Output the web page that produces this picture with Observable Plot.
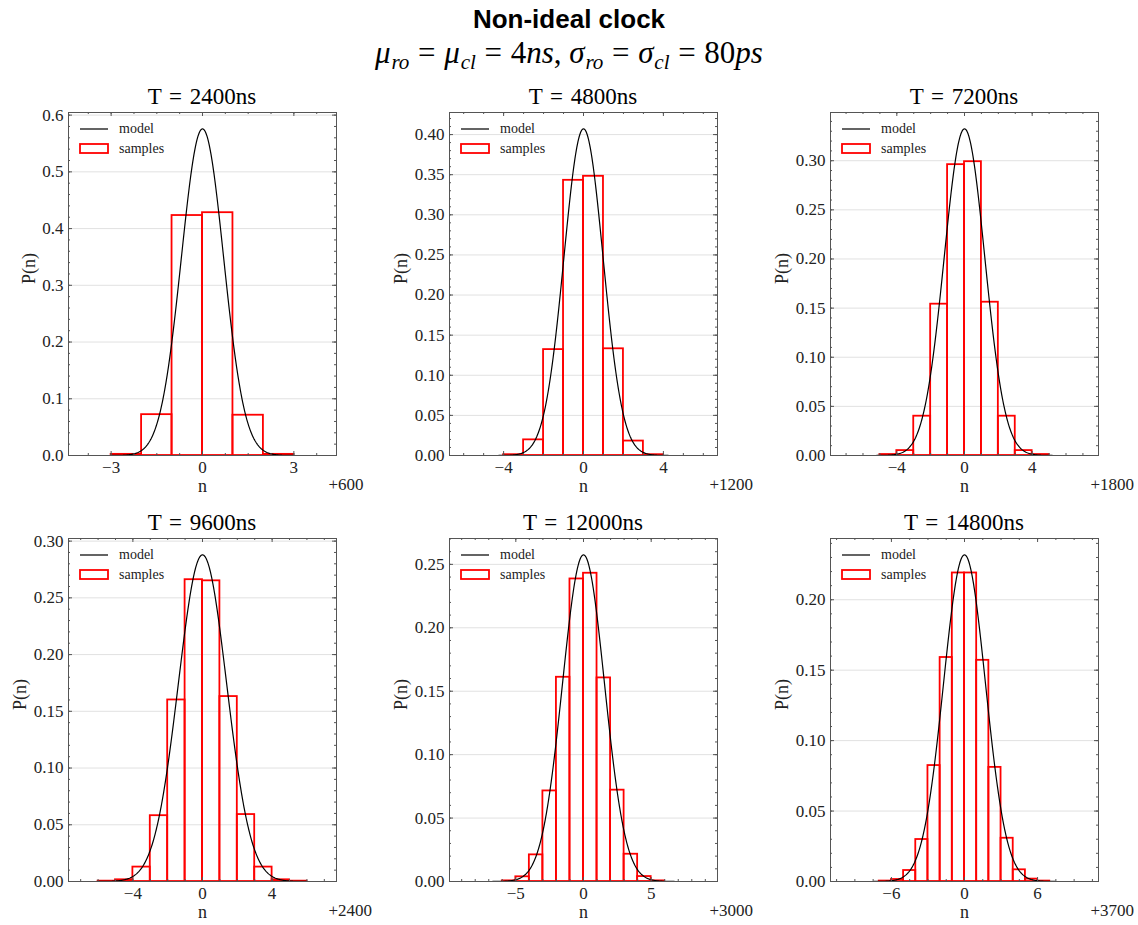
<!DOCTYPE html>
<html>
<head>
<meta charset="utf-8">
<script src="https://cdn.jsdelivr.net/npm/d3@7"></script>
<script src="https://cdn.jsdelivr.net/npm/@observablehq/plot@0.6"></script>
<style>
  body { margin: 0; background: #fff; }
  #fig { position: relative; width: 1138px; height: 925px; overflow: hidden; font-family: "Liberation Serif", serif; color: #000; }
  .title { position: absolute; left: 0; width: 1138px; top: 4px; text-align: center; font: bold 26px "Liberation Sans", Arial, sans-serif; }
  .subtitle { position: absolute; left: 0; width: 1138px; top: 35px; text-align: center; font: 31px "Liberation Serif", serif; white-space: nowrap; }
  .subtitle i { font-style: italic; }
  .subtitle .eq { margin: 0 0.28em; }
  .subtitle sub { font-size: 0.68em; font-style: italic; vertical-align: -0.28em; line-height: 0; margin-left: 0.04em; }
  .ptitle { position: absolute; width: 268px; height: 26px; line-height: 26px; text-align: center; font-size: 23px; white-space: nowrap; word-spacing: 2px; }
  .panel { position: absolute; }
</style>
</head>
<body>
<div id="fig">
  <div class="title">Non-ideal clock</div>
  <div class="subtitle"><i>μ</i><sub>ro</sub><span class="eq">=</span><i>μ</i><sub>cl</sub><span class="eq">=</span>4<i>ns</i>, <i>σ</i><sub>ro</sub><span class="eq">=</span><i>σ</i><sub>cl</sub><span class="eq">=</span>80<i>ps</i></div>
</div>
<script>
// Clock parameters (ns)
const muClock = 4;
const sigmaClock = 0.08;

// Observation windows T (ns)
const periods = [2400, 4800, 7200, 9600, 12000, 14800];

// Sampled distributions of n around the mean count: first bin edge and bin probabilities
const binStart = [-3, -4, -5, -6, -6, -7];
const p2400 = [0.002, 0.072, 0.423, 0.428, 0.071, 0.002];
const p4800 = [0.001, 0.0195, 0.132, 0.343, 0.348, 0.133, 0.018, 0.001];
const p7200 = [0.001, 0.005, 0.040, 0.154, 0.296, 0.299, 0.156, 0.040, 0.005, 0.001];
const p9600 = [0.0003, 0.0015, 0.0127, 0.058, 0.160, 0.266, 0.265, 0.163, 0.059, 0.0127, 0.0015, 0.0003];
const p12000 = [0.0005, 0.0037, 0.021, 0.0714, 0.161, 0.2385, 0.243, 0.1605, 0.072, 0.0215, 0.0039, 0.0005];
const p14800 = [0.0003, 0.0014, 0.0078, 0.0298, 0.0823, 0.159, 0.219, 0.219, 0.157, 0.081, 0.0307, 0.0083, 0.0017, 0.0003];
const sampleProbs = [p2400, p4800, p7200, p9600, p12000, p14800];

// Extent over which the model density is evaluated (counts from the mean)
const modelSpan = [4.0, 6.1, 7.2, 7.0, 9.0, 10.0];

// Major tick steps for the n axis
const xTickStep = [3, 4, 4, 4, 5, 6];
// Major tick steps for the P(n) axis
const yTickStep = [0.1, 0.05, 0.05, 0.05, 0.05, 0.05];

const frameW = 268, frameH = 343;
const mL = 68, mR = 40, mT = 5, mB = 45;
const frameLefts = [68, 449, 830];
const frameTops = [112, 538];
const fig = document.getElementById("fig");
const serif = "Liberation Serif, serif";

function ticksIn(step, lo, hi) {
  const out = [];
  const k0 = Math.ceil(lo / step - 1e-9), k1 = Math.floor(hi / step + 1e-9);
  for (let k = k0; k <= k1; k++) out.push(+(k * step).toFixed(10));
  return out;
}
function minorDivs(step) {
  const m = +(step / Math.pow(10, Math.floor(Math.log10(step)))).toFixed(6);
  return (m === 1 || m === 5) ? 5 : 4;
}

// Legend drawn in the top-left corner of the frame
function legendMark() {
  return (index, scales, values, dims) => {
    const g = d3.create("svg:g");
    const x0 = dims.marginLeft + 12, y0 = dims.marginTop;
    g.append("line").attr("x1", x0).attr("x2", x0 + 28).attr("y1", y0 + 17).attr("y2", y0 + 17)
      .attr("stroke", "#222").attr("stroke-width", 1.4);
    g.append("rect").attr("x", x0).attr("y", y0 + 32).attr("width", 28).attr("height", 9)
      .attr("fill", "none").attr("stroke", "red").attr("stroke-width", 1.8);
    const t = g.append("g").attr("font-size", 14).attr("font-family", serif).attr("text-anchor", "start").attr("fill", "#222");
    t.append("text").attr("x", x0 + 39).attr("y", y0 + 17).attr("dy", "0.32em").text("model");
    t.append("text").attr("x", x0 + 39).attr("y", y0 + 37).attr("dy", "0.32em").text("samples");
    return g.node();
  };
}

periods.forEach((T, i) => {
  const nMean = T / muClock;
  const sigmaN = Math.sqrt(2 * nMean) * sigmaClock / muClock;
  const span = modelSpan[i];
  const model = d3.range(0, 401).map(j => {
    const x = -span + (2 * span * j) / 400;
    return {x, y: Math.exp(-0.5 * (x / sigmaN) ** 2) / (Math.sqrt(2 * Math.PI) * sigmaN)};
  });
  const bins = sampleProbs[i].map((p, j) => ({x1: binStart[i] + j, x2: binStart[i] + j + 1, p}));

  const xHalf = span * 1.1;
  const yMax = d3.max(model, d => d.y) * 1.05;
  const xs = xTickStep[i], ys = yTickStep[i];
  const xMajor = ticksIn(xs, -xHalf, xHalf);
  const xMinor = ticksIn(xs / minorDivs(xs), -xHalf, xHalf);
  const yMajor = ticksIn(ys, 0, yMax);
  const yMinor = ticksIn(ys / minorDivs(ys), 0, yMax);
  const tickColor = "#555";

  const col = i % 3, row = Math.floor(i / 3);
  const fl = frameLefts[col], ft = frameTops[row];

  const chart = Plot.plot({
    width: mL + frameW + mR,
    height: mT + frameH + mB,
    marginLeft: mL, marginRight: mR, marginTop: mT, marginBottom: mB,
    x: {domain: [-xHalf, xHalf]},
    y: {domain: [0, yMax]},
    style: {fontFamily: serif, fontSize: "17px", color: "#222", background: "transparent", overflow: "visible"},
    marks: [
      Plot.gridY(yMajor, {stroke: "#000", strokeOpacity: 0.12, strokeWidth: 1}),
      Plot.rect(bins, {x1: "x1", x2: "x2", y1: 0, y2: "p", fill: "none", stroke: "red", strokeWidth: 1.8}),
      Plot.line(model, {x: "x", y: "y", stroke: "#000", strokeWidth: 1.2}),
      Plot.frame({stroke: tickColor, strokeWidth: 1}),
      // inward ticks on all four sides
      Plot.tickX(xMinor, {x: d => d, insetTop: frameH - 2, stroke: tickColor}),
      Plot.tickX(xMinor, {x: d => d, insetBottom: frameH - 2, stroke: tickColor}),
      Plot.tickX(xMajor, {x: d => d, insetTop: frameH - 4, stroke: tickColor}),
      Plot.tickX(xMajor, {x: d => d, insetBottom: frameH - 4, stroke: tickColor}),
      Plot.tickY(yMinor, {y: d => d, insetRight: frameW - 2, stroke: tickColor}),
      Plot.tickY(yMinor, {y: d => d, insetLeft: frameW - 2, stroke: tickColor}),
      Plot.tickY(yMajor, {y: d => d, insetRight: frameW - 4, stroke: tickColor}),
      Plot.tickY(yMajor, {y: d => d, insetLeft: frameW - 4, stroke: tickColor}),
      Plot.axisX(xMajor, {tickSize: 0, tickPadding: 5, tickFormat: d3.format("d"), label: null, fontSize: 17, fill: "#222"}),
      Plot.axisY(yMajor, {tickSize: 0, tickPadding: 5, tickFormat: d3.format(ys < 0.1 ? ".2f" : ".1f"), label: null, fontSize: 17, fill: "#222"}),
      Plot.text(["n"], {text: d => d, frameAnchor: "bottom", dy: 36, fontSize: 18, fill: "#222"}),
      Plot.text(["P(n)"], {text: d => d, frameAnchor: "left", dx: i === 0 ? -39 : -48, rotate: -90, fontSize: 18, fill: "#222"}),
      Plot.text(["+" + nMean], {text: d => d, frameAnchor: "bottom-right", dx: -8, dy: 34, textAnchor: "start", fontSize: 17, fill: "#222"}),
      legendMark()
    ]
  });
  chart.classList.add("panel");
  chart.style.left = (fl - mL) + "px";
  chart.style.top = (ft - mT) + "px";
  fig.appendChild(chart);

  const title = document.createElement("div");
  title.className = "ptitle";
  title.textContent = "T = " + T + "ns";
  title.style.left = fl + "px";
  title.style.top = (ft - 28) + "px";
  fig.appendChild(title);
});
</script>
</body>
</html>
